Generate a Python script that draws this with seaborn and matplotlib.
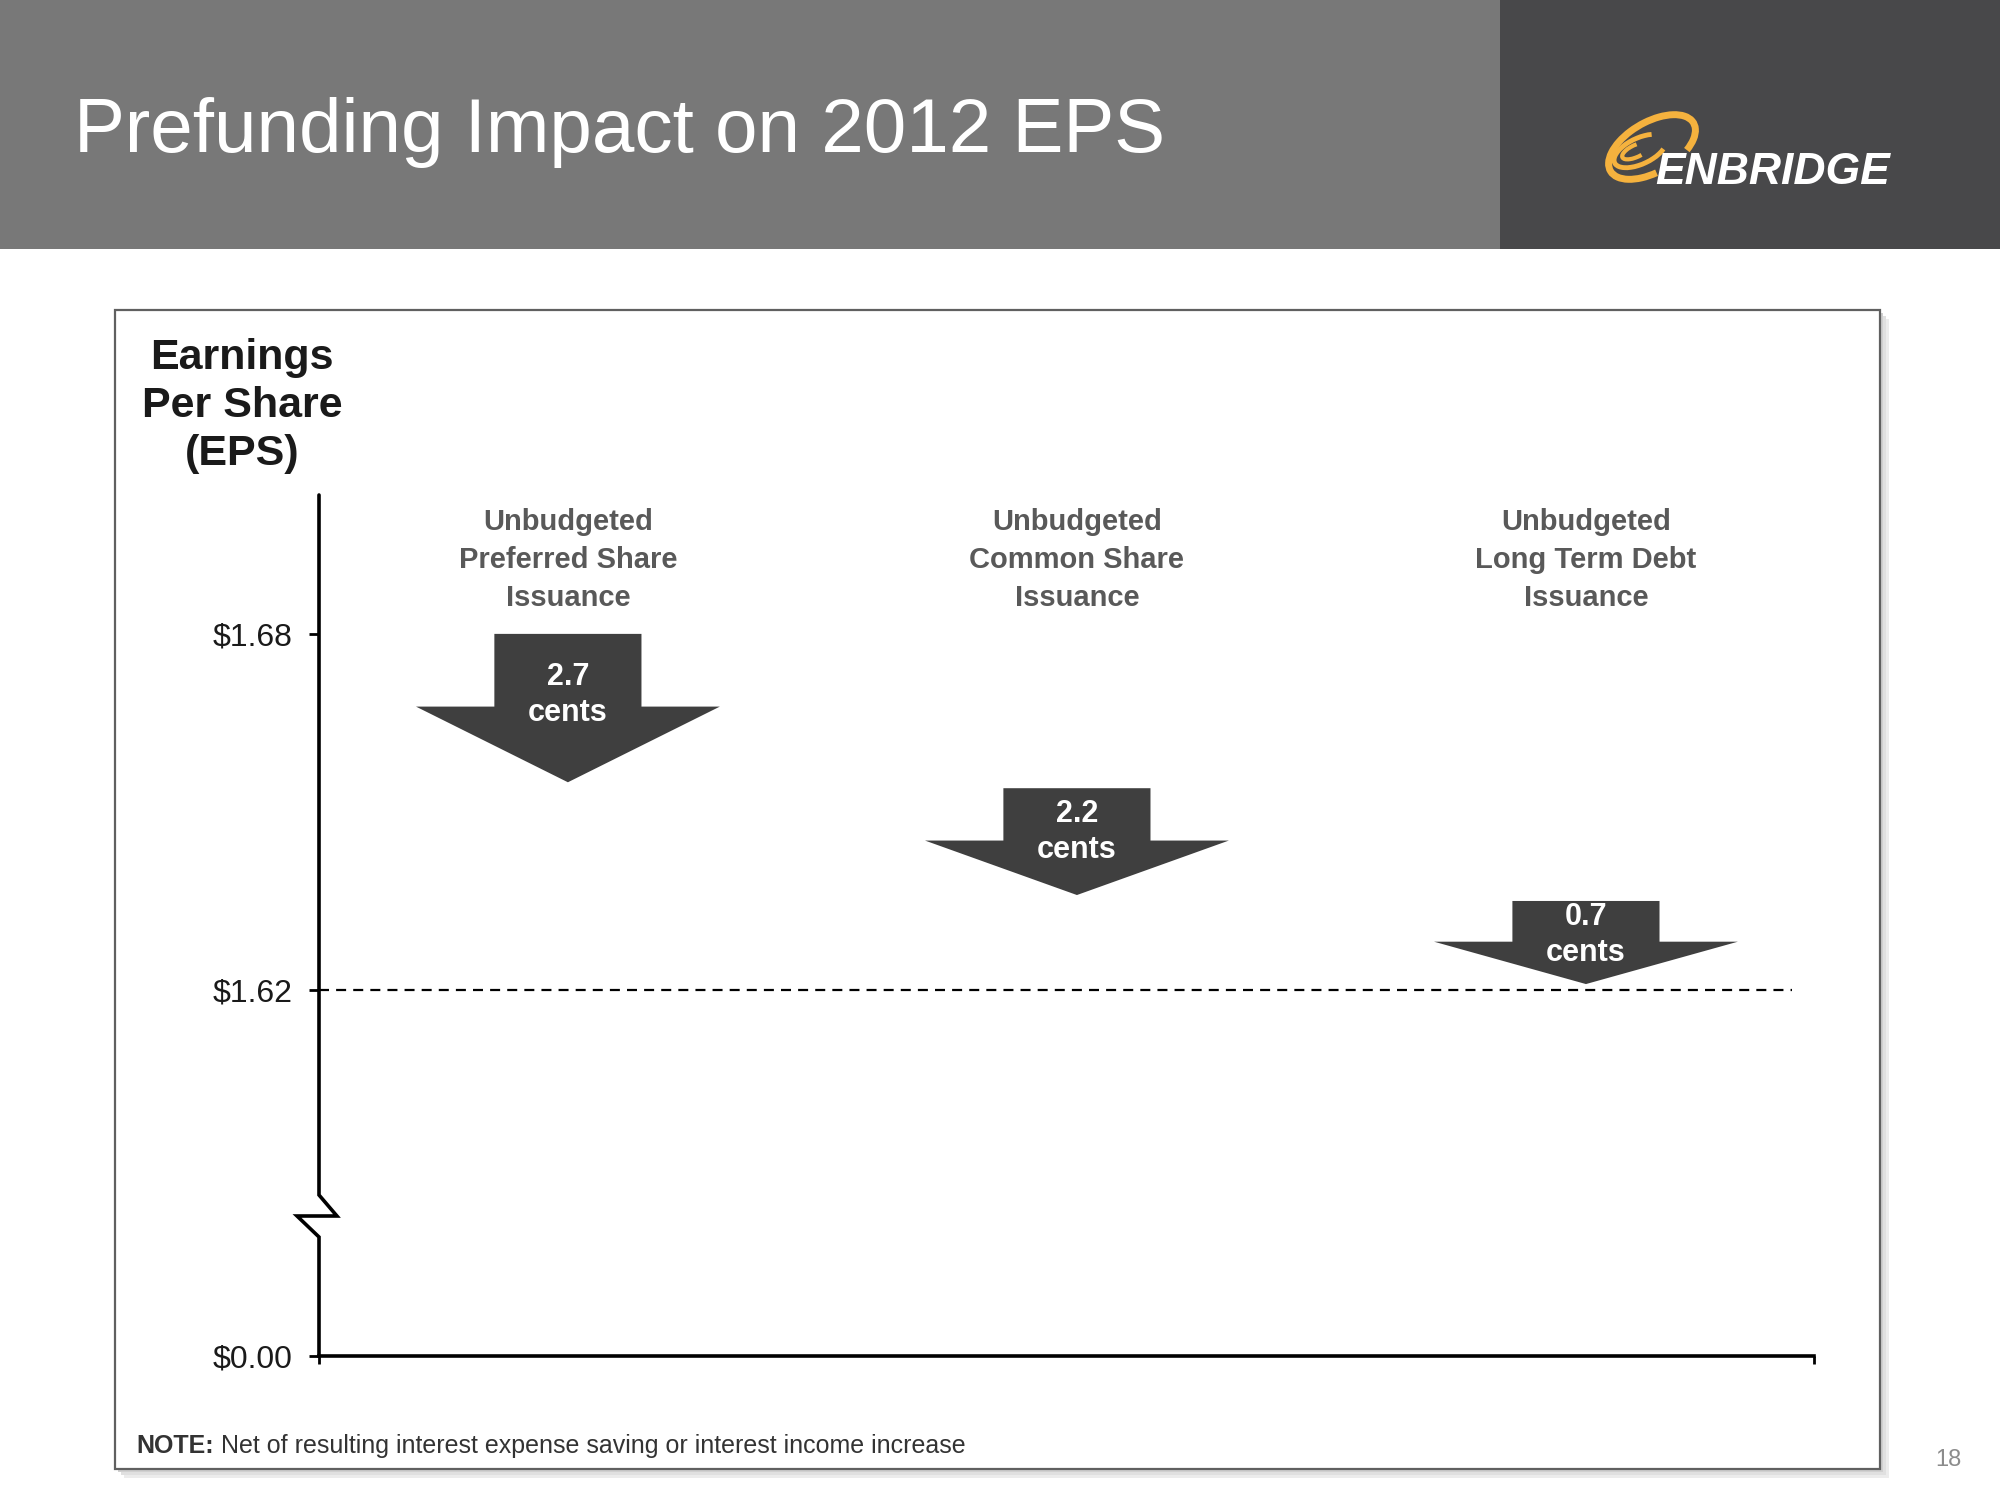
"""
Prefunding impact on 2012 EPS - waterfall-style arrows on a broken EPS axis.
"""

import numpy as np
import matplotlib
matplotlib.use('Agg')
import matplotlib.pyplot as plt
from matplotlib.patches import Rectangle, Arc
import seaborn as sns

# --- Data ---
categories = [
    "Unbudgeted\nPreferred Share\nIssuance",
    "Unbudgeted\nCommon Share\nIssuance",
    "Unbudgeted\nLong Term Debt\nIssuance",
]
impact_cents = [2.7, 2.2, 0.7]
eps_from = [1.680, 1.654, 1.635]   # where each arrow starts (EPS, $)
eps_to = [1.655, 1.636, 1.621]     # where each arrow tip lands (EPS, $)
baseline_eps = 1.62
tick_values = [0.00, 1.62, 1.68]
tick_labels = [r"\$0.00", r"\$1.62", r"\$1.68"]

# broken y axis: everything below BREAK is squeezed
BREAK = 1.5816
SQUEEZE = 0.01471


def fwd(y):
    y = np.asarray(y, dtype=float)
    return np.where(y >= BREAK, y, BREAK - (BREAK - y) * SQUEEZE)


def inv(t):
    t = np.asarray(t, dtype=float)
    return np.where(t >= BREAK, t, BREAK - (BREAK - t) / SQUEEZE)


sns.set_theme(style='white')
plt.rcParams['font.family'] = ['Liberation Sans', 'DejaVu Sans']

fig = plt.figure(figsize=(20, 15), dpi=100)

# --- slide background (pixel coordinates) ---
bg = fig.add_axes([0, 0, 1, 1], zorder=0)
bg.set_xlim(0, 2000)
bg.set_ylim(1500, 0)
bg.axis('off')

bg.add_patch(Rectangle((0, 0), 1500, 249, fc='#787878', ec='none'))
bg.add_patch(Rectangle((1500, 0), 500, 249, fc='#48484a', ec='none'))
bg.text(74, 133, "Prefunding Impact on 2012 EPS", color='white',
        fontsize=55, ha='left', va='center')

# logo
orange = '#f5b23e'
bg.add_patch(Arc((1652, 147), 96, 50, angle=-30, theta1=110, theta2=395,
                 color=orange, lw=5))
bg.add_patch(Arc((1640, 151), 56, 26, angle=-25, theta1=20, theta2=330,
                 color=orange, lw=3.5))
bg.add_patch(Arc((1636, 151), 30, 12, angle=-25, theta1=60, theta2=300,
                 color=orange, lw=3))
bg.text(1655, 172, "ENBRIDGE", color='white', fontsize=32,
        fontweight='bold', fontstyle='italic', ha='left', va='center')

# chart frame with soft shadow
for off, col in [(9, '#ececec'), (6, '#e0e0e0'), (3, '#d0d0d0')]:
    bg.add_patch(Rectangle((115 + off, 310 + off), 1765, 1159,
                           fc=col, ec='none'))
bg.add_patch(Rectangle((115, 310), 1765, 1159, fc='white',
                       ec='#606060', lw=1.6))

bg.text(242, 406, "Earnings\nPer Share\n(EPS)", fontsize=31,
        fontweight='bold', color='#1a1a1a', ha='center', va='center',
        linespacing=1.27)

note = bg.text(136, 1446, "NOTE:", fontsize=18, fontweight='bold',
               color='#333333', ha='left', va='center')
bg.annotate(" Net of resulting interest expense saving or interest income increase",
            xy=(1, 0), xycoords=note, ha='left', va='bottom',
            fontsize=18, color='#333333')
bg.text(1948, 1460, "18", fontsize=17, color='#8c8c8c',
        ha='center', va='center')

# --- chart ---
ax = fig.add_axes([0.1595, 0.096, 0.7475, 0.574], zorder=1)
ax.patch.set_alpha(0)
ax.set_yscale('function', functions=(fwd, inv))
ax.set_ylim(0, 1.7034)
xmin, xmax = -0.489, 2.448
ax.set_xlim(xmin, xmax)

sns.despine(ax=ax, top=True, right=True, left=True)
ax.spines['bottom'].set_color('black')
ax.spines['bottom'].set_linewidth(2.6)

# y axis drawn by hand so it can carry the break zig-zag
ax.plot([0, 0, 0.012, -0.0147, 0, 0],
        [1, 0.187, 0.1626, 0.1626, 0.1382, 0],
        transform=ax.transAxes, color='black', lw=2.6, clip_on=False,
        solid_joinstyle='miter')

ax.set_yticks(tick_values)
ax.set_yticklabels(tick_labels)
ax.set_xticks([xmin, xmax])
ax.set_xticklabels([])
ax.tick_params(axis='y', direction='out', length=7, width=2,
               color='black', pad=12, labelsize=23, labelcolor='#1a1a1a',
               left=True)
ax.tick_params(axis='x', direction='out', length=6, width=2,
               color='black', bottom=True)
ax.minorticks_off()
ax.grid(False)

# dashed baseline at $1.62
ax.axhline(baseline_eps, xmin=0, xmax=0.985, color='black', lw=1.6,
           linestyle=(0, (4.5, 3.2)), zorder=1)

arrow_color = '#3f3f3f'
for i, (top, tip, cents, label) in enumerate(
        zip(eps_from, eps_to, impact_cents, categories)):
    length = top - tip
    ax.arrow(i, top, 0, -length, width=0.289, head_width=0.597,
             head_length=0.51 * length, length_includes_head=True,
             fc=arrow_color, ec='none', zorder=2)
    ax.text(i, top - 0.41 * length, f"{cents:.1f}\ncents", color='white',
            fontsize=22, fontweight='bold', ha='center', va='center',
            linespacing=1.27, zorder=3)
    ax.text(i, 1.6925, label, color='#595959', fontsize=21,
            fontweight='bold', ha='center', va='center', linespacing=1.45)

fig.savefig('out.png', dpi=100)
plt.close(fig)
